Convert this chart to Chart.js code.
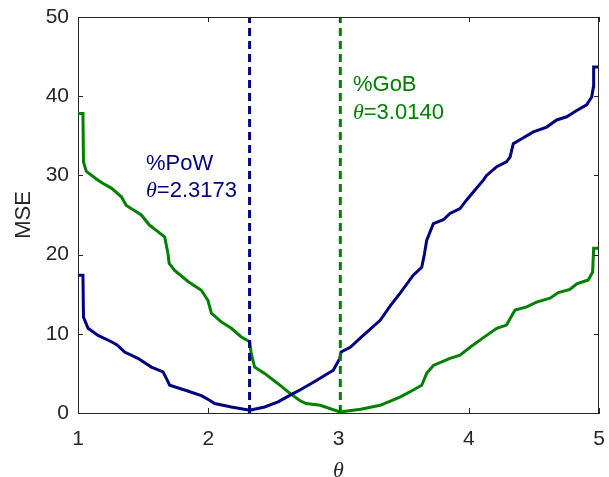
<!DOCTYPE html>
<html>
<head>
<meta charset="utf-8">
<script src="https://cdn.jsdelivr.net/npm/chart.js@4.4.1/dist/chart.umd.min.js"></script>
<style>
  html, body { margin: 0; padding: 0; background: #fff; }
  #wrap { width: 609px; height: 477px; }
</style>
</head>
<body>
<div id="wrap"><canvas id="myChart" width="609" height="477"></canvas></div>
<script>
// PoW curve (blue)
const thetaPoW = [1.00, 1.038, 1.042, 1.077, 1.154, 1.256, 1.30, 1.358, 1.46, 1.563, 1.653, 1.68, 1.704, 1.819,
  1.947, 2.00, 2.05, 2.177, 2.318, 2.433, 2.536, 2.65, 2.704, 2.83, 2.96, 2.98, 3.01, 3.02, 3.09, 3.19, 3.32,
  3.40, 3.472, 3.574, 3.639, 3.66, 3.677, 3.728, 3.805, 3.856, 3.933, 3.984, 4.035, 4.112, 4.137, 4.215, 4.29,
  4.317, 4.342, 4.393, 4.496, 4.598, 4.675, 4.752, 4.829, 4.905, 4.944, 4.957, 4.959, 5.00];
const msePoW = [17.4, 17.4, 12.1, 10.7, 9.8, 9.0, 8.6, 7.7, 6.9, 5.8, 5.2, 4.3, 3.5, 2.9,
  2.2, 1.7, 1.2, 0.76, 0.34, 0.76, 1.4, 2.45, 2.9, 4.1, 5.4, 6.0, 6.9, 7.7, 8.3, 9.8, 11.7,
  13.6, 15.1, 17.4, 18.4, 20.1, 21.8, 23.9, 24.4, 25.2, 25.8, 26.9, 27.9, 29.4, 30.0, 31.1, 31.7,
  32.3, 34.0, 34.5, 35.5, 36.1, 37.0, 37.4, 38.2, 38.9, 39.9, 41.2, 43.7, 43.7];

// GoB curve (green)
const thetaGoB = [1.00, 1.038, 1.042, 1.064, 1.154, 1.19, 1.256, 1.333, 1.371, 1.486, 1.55, 1.614, 1.666, 1.691,
  1.70, 1.742, 1.845, 1.947, 1.998, 2.024, 2.10, 2.177, 2.254, 2.318, 2.33, 2.356, 2.433, 2.536, 2.63, 2.70,
  2.75, 2.86, 3.01, 3.17, 3.32, 3.472, 3.574, 3.639, 3.677, 3.728, 3.856, 3.933, 4.01, 4.086, 4.137, 4.215,
  4.29, 4.317, 4.355, 4.445, 4.52, 4.624, 4.688, 4.777, 4.829, 4.918, 4.951, 4.959, 5.00];
const mseGoB = [37.8, 37.8, 31.7, 30.5, 29.4, 29.0, 28.4, 27.3, 26.2, 25.0, 23.7, 22.9, 22.2, 20.1,
  18.9, 18.0, 16.6, 15.5, 14.2, 12.6, 11.5, 10.7, 9.6, 9.0, 7.5, 5.8, 5.0, 3.7, 2.45, 1.6,
  1.2, 0.97, 0.13, 0.47, 0.97, 2.0, 2.9, 3.5, 5.0, 6.0, 6.9, 7.3, 8.3, 9.2, 9.8, 10.7,
  11.1, 11.9, 13.0, 13.4, 14.0, 14.5, 15.2, 15.6, 16.3, 16.8, 17.8, 20.8, 20.8];

// optimal thetas (dashed lines) and axis ticks
const bestPoW = 2.3173;
const bestGoB = 3.0140;
const xTicks = [1, 2, 3, 4, 5];
const yTicks = [0, 10, 20, 30, 40, 50];

const BLUE = "#000080";
const GREEN = "#008000";
const AXIS = "#262626";

function toPoints(xs, ys) {
  return xs.map((x, i) => ({ x: x, y: ys[i] }));
}

// box, inward ticks and texts, MATLAB style
const matlabAxes = {
  id: "matlabAxes",
  afterDraw(chart) {
    const ctx = chart.ctx;
    const a = chart.chartArea;
    const xs = chart.scales.x;
    const ys = chart.scales.y;
    ctx.save();
    ctx.strokeStyle = AXIS;
    ctx.lineWidth = 1;
    ctx.beginPath();
    ctx.moveTo(a.left, a.top + 0.5);
    ctx.lineTo(a.right, a.top + 0.5);
    ctx.moveTo(a.right - 0.5, a.top);
    ctx.lineTo(a.right - 0.5, a.bottom);
    xTicks.forEach((v) => {
      const px = Math.round(xs.getPixelForValue(v)) + 0.5;
      ctx.moveTo(px, a.bottom);
      ctx.lineTo(px, a.bottom - 5);
      ctx.moveTo(px, a.top);
      ctx.lineTo(px, a.top + 5);
    });
    yTicks.forEach((v) => {
      const py = Math.round(ys.getPixelForValue(v)) + 0.5;
      ctx.moveTo(a.left, py);
      ctx.lineTo(a.left + 5, py);
      ctx.moveTo(a.right, py);
      ctx.lineTo(a.right - 5, py);
    });
    ctx.stroke();

    // axis titles
    ctx.fillStyle = AXIS;
    ctx.textAlign = "center";
    ctx.textBaseline = "middle";
    ctx.font = "italic 22px 'Liberation Serif'";
    ctx.fillText("\u03b8", (a.left + a.right) / 2, 471);
    ctx.save();
    ctx.translate(24, (a.top + a.bottom) / 2);
    ctx.rotate(-Math.PI / 2);
    ctx.font = "22px 'Liberation Sans'";
    ctx.fillText("MSE", 0, 0);
    ctx.restore();

    // annotations
    function label(name, value, color, tx, ty1, ty2) {
      const x0 = xs.getPixelForValue(tx);
      ctx.fillStyle = color;
      ctx.textAlign = "left";
      ctx.textBaseline = "alphabetic";
      ctx.font = "22px 'Liberation Sans'";
      ctx.fillText(name, x0, ys.getPixelForValue(ty1));
      const y2 = ys.getPixelForValue(ty2);
      ctx.font = "italic 22px 'Liberation Serif'";
      ctx.fillText("\u03b8", x0, y2);
      const w = ctx.measureText("\u03b8").width;
      ctx.font = "22px 'Liberation Sans'";
      ctx.fillText("=" + value, x0 + w, y2);
    }
    label("%PoW", "2.3173", BLUE, 1.522, 30.7, 27.3);
    label("%GoB", "3.0140", GREEN, 3.111, 40.6, 37.1);
    ctx.restore();
  },
};

const config = {
  type: "line",
  data: {
    datasets: [
      {
        data: [{ x: bestPoW, y: 0 }, { x: bestPoW, y: 50 }],
        borderColor: BLUE,
        borderWidth: 3,
        borderDash: [8, 5],
        pointRadius: 0,
      },
      {
        data: [{ x: bestGoB, y: 0 }, { x: bestGoB, y: 50 }],
        borderColor: GREEN,
        borderWidth: 3,
        borderDash: [8, 5],
        pointRadius: 0,
      },
      {
        data: toPoints(thetaPoW, msePoW),
        borderColor: BLUE,
        borderWidth: 3,
        pointRadius: 0,
        tension: 0,
      },
      {
        data: toPoints(thetaGoB, mseGoB),
        borderColor: GREEN,
        borderWidth: 3,
        pointRadius: 0,
        tension: 0,
      },
    ],
  },
  options: {
    responsive: false,
    animation: false,
    layout: { padding: { left: 0, top: 17, right: 10, bottom: 0 } },
    plugins: { legend: { display: false }, tooltip: { enabled: false } },
    scales: {
      x: {
        type: "linear",
        min: 1,
        max: 5,
        afterFit: (s) => { s.height = 64; s.paddingLeft = 0; s.paddingRight = 0; },
        afterBuildTicks: (s) => { s.ticks = xTicks.map((v) => ({ value: v })); },
        grid: { display: false, drawTicks: false },
        border: { display: true, color: AXIS, width: 1 },
        ticks: { color: AXIS, padding: 14, font: { family: "'Liberation Sans'", size: 21 } },
      },
      y: {
        type: "linear",
        min: 0,
        max: 50,
        afterFit: (s) => { s.width = 78; s.paddingTop = 0; s.paddingBottom = 0; },
        afterBuildTicks: (s) => { s.ticks = yTicks.map((v) => ({ value: v })); },
        grid: { display: false, drawTicks: false },
        border: { display: true, color: AXIS, width: 1 },
        ticks: { color: AXIS, padding: 9, font: { family: "'Liberation Sans'", size: 21 } },
      },
    },
  },
  plugins: [matlabAxes],
};

new Chart(document.getElementById("myChart"), config);
</script>
</body>
</html>
